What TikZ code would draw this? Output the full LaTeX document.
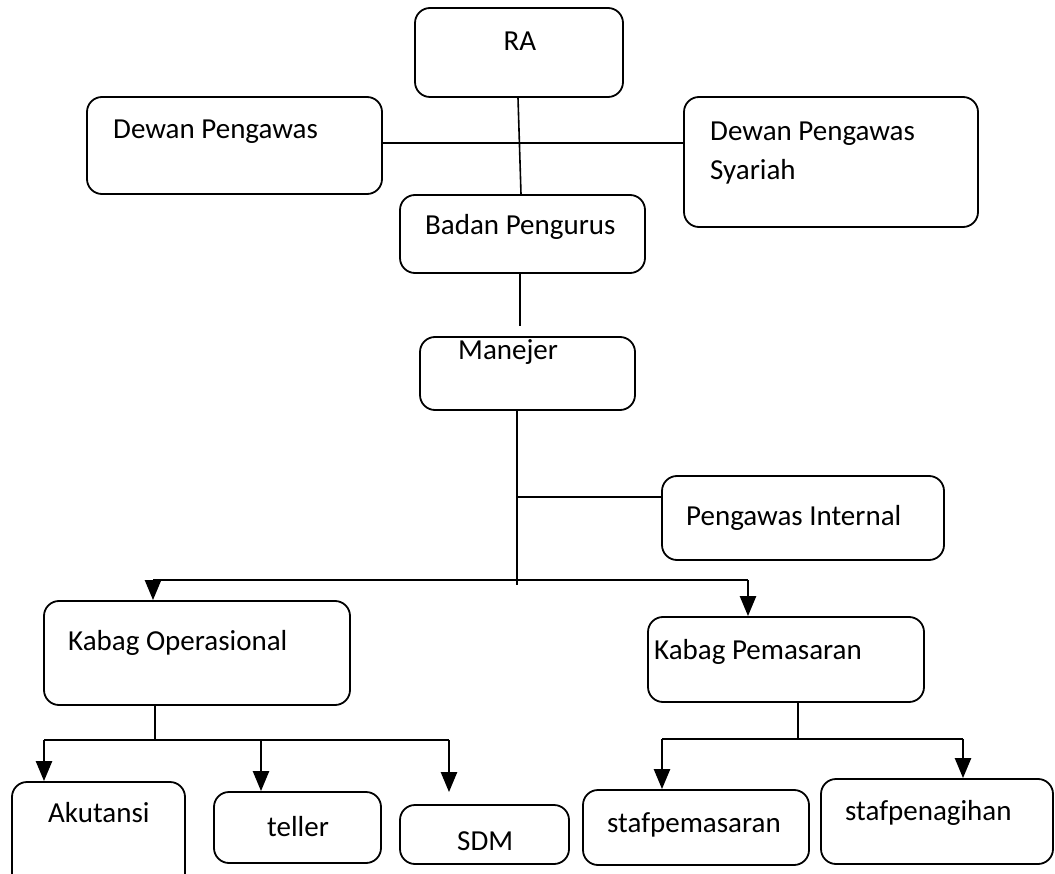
\documentclass[tikz,border=0pt]{standalone}
\usepackage{fontspec}
\setmainfont{Carlito}
\usetikzlibrary{arrows.meta,positioning,calc}
\tikzset{
    orgbox/.style = {rectangle, draw=black, line width=1.8pt, rounded corners=15pt, inner sep=0pt},
    boxtext/.style = {inner sep=0pt, anchor=base west, font=\fontsize{29}{36}\selectfont},
    link/.style = {draw=black, line width=1.6pt},
    arrowlink/.style = {-{Triangle[width=16pt,length=20pt]}, draw=black, line width=2.4pt}
}

\begin{document}
\begin{tikzpicture}[x=1pt, y=-1pt]
    \useasboundingbox (0,0) rectangle (1055,874);
    \clip (0,0) rectangle (1055,874);

    % --- Boxes ---
    \node[orgbox, minimum width=208, minimum height=89] (ra) at (519,52.5) {};
    \node[orgbox, minimum width=295, minimum height=97] (dp) at (234.5,145.5) {};
    \node[orgbox, minimum width=294, minimum height=130] (dps) at (831,162) {};
    \node[orgbox, minimum width=245, minimum height=78] (bp) at (522.5,234) {};
    \node[orgbox, minimum width=215, minimum height=73] (mj) at (527.5,373.5) {};
    \node[orgbox, minimum width=282, minimum height=84] (pi) at (803,518) {};
    \node[orgbox, minimum width=306, minimum height=104] (ko) at (197,653) {};
    \node[orgbox, minimum width=276, minimum height=85] (kp) at (786,659.5) {};
    \node[orgbox, minimum width=173, minimum height=108] (ak) at (98.5,836) {};
    \node[orgbox, minimum width=167, minimum height=71] (te) at (297.5,827.5) {};
    \node[orgbox, minimum width=169, minimum height=59] (sdm) at (484.5,834.5) {};
    \node[orgbox, minimum width=226, minimum height=75] (sp) at (696,827.5) {};
    \node[orgbox, minimum width=232, minimum height=85] (sg) at (937,821.5) {};

    % --- Texts ---
    \node[boxtext, anchor=base] (ra-t) at (520,51) {RA};
    \node[boxtext] (dp-t) at (113,139) {Dewan Pengawas};
    \node[boxtext, align=left] (dps-t) at (710,180) {Dewan Pengawas\\[3pt]Syariah};
    \node[boxtext] (bp-t) at (425,235) {Badan Pengurus};
    \node[boxtext] (mj-t) at (458,360) {Manejer};
    \node[boxtext] (pi-t) at (686,525) {Pengawas Internal};
    \node[boxtext] (ko-t) at (68,650) {Kabag Operasional};
    \node[boxtext] (kp-t) at (654,659) {Kabag Pemasaran};
    \node[boxtext] (ak-t) at (48,822) {Akutansi};
    \node[boxtext] (te-t) at (267,836) {teller};
    \node[boxtext] (sdm-t) at (457,850) {SDM};
    \node[boxtext] (sp-t) at (607,832) {stafpemasaran};
    \node[boxtext] (sg-t) at (845,820) {stafpenagihan};

    % --- Upper lines ---
    \draw[link] ([xshift=-1pt]ra.south) -- ([xshift=-1.5pt]bp.north);
    \draw[link] ([yshift=2.5pt]dp.east) -- ([yshift=2.5pt]dp.east -| dps.west);
    \draw[link] ([xshift=-2.5pt]bp.south) -- ++(0,52);

    % --- Manejer trunk ---
    \coordinate (hub) at (517,580);
    \coordinate (piin) at ([yshift=21pt]pi.west);
    \draw[link] (mj.south -| hub) -- ([yshift=-5pt]hub);
    \draw[link] (piin -| hub) -- (piin);

    \coordinate (koin) at ([xshift=-44pt]ko.north);
    \coordinate (kpin) at ([xshift=-38pt]kp.north);
    \draw[link] (koin |- hub) -- (kpin |- hub);
    \draw[arrowlink] (koin |- hub) -- (koin);
    \draw[arrowlink] (kpin |- hub) -- (kpin);

    % --- Operasional branch ---
    \coordinate (kobus) at (155,740);
    \coordinate (akin) at ([xshift=-54.5pt]ak.north);
    \coordinate (tein) at ([xshift=-36.5pt]te.north);
    \coordinate (sdmin) at ([xshift=-35.5pt,yshift=12pt]sdm.north);
    \draw[link] (ko.south -| kobus) -- (kobus);
    \draw[link] (akin |- kobus) -- (sdmin |- kobus);
    \draw[arrowlink] (akin |- kobus) -- (akin);
    \draw[arrowlink] (tein |- kobus) -- (tein);
    \draw[arrowlink] (sdmin |- kobus) -- (sdmin);

    % --- Pemasaran branch ---
    \coordinate (kpbus) at ([xshift=12pt,yshift=-36pt]kp.south);
    \coordinate (spin) at ([xshift=-34pt]sp.north);
    \coordinate (sgin) at ([xshift=26pt]sg.north);
    \draw[link] ([xshift=12pt]kp.south) -- (kpbus);
    \draw[link] (spin |- kpbus) -- (sgin |- kpbus);
    \draw[arrowlink] (spin |- kpbus) -- (spin);
    \draw[arrowlink] (sgin |- kpbus) -- (sgin);
\end{tikzpicture}
\end{document}
